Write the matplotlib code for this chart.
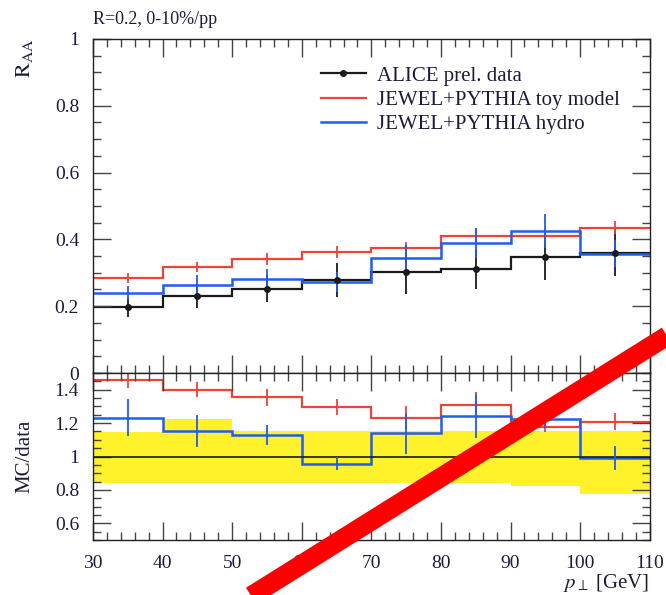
import numpy as np
import matplotlib
matplotlib.use("Agg")
import matplotlib.pyplot as plt
from matplotlib.lines import Line2D
from matplotlib.ticker import MultipleLocator

plt.rcParams['font.family'] = ['Liberation Serif', 'DejaVu Serif']
plt.rcParams['mathtext.fontset'] = 'stix'

# bins in pT
edges = [30, 40, 50, 60, 70, 80, 90, 100, 110]

# R_AA
data_val = [0.197, 0.230, 0.252, 0.278, 0.303, 0.310, 0.347, 0.360]
data_err = [0.030, 0.035, 0.040, 0.050, 0.065, 0.060, 0.070, 0.070]
toy_val = [0.284, 0.318, 0.340, 0.362, 0.373, 0.410, 0.410, 0.435]
toy_err = [0.015, 0.015, 0.018, 0.018, 0.020, 0.020, 0.020, 0.020]
hyd_val = [0.240, 0.263, 0.282, 0.272, 0.344, 0.389, 0.425, 0.357]
hyd_err = [0.020, 0.030, 0.030, 0.030, 0.040, 0.045, 0.050, 0.040]

# MC/data
toy_ratio = [1.458, 1.400, 1.354, 1.296, 1.232, 1.308, 1.178, 1.208]
toy_ratio_err = [0.050, 0.045, 0.050, 0.050, 0.070, 0.080, 0.030, 0.050]
hyd_ratio = [1.232, 1.152, 1.128, 0.958, 1.138, 1.242, 1.222, 0.992]
hyd_ratio_err = [0.110, 0.095, 0.060, 0.040, 0.120, 0.130, 0.050, 0.070]
band_hi = [1.148, 1.224, 1.150, 1.150, 1.150, 1.150, 1.150, 1.150]
band_lo = [0.842, 0.842, 0.842, 0.842, 0.842, 0.842, 0.822, 0.774]

edges = np.array(edges)
centers = 0.5 * (edges[1:] + edges[:-1])

txt = '#1c1c3a'
c_red = '#ee4438'
c_blue = '#1f5cf0'
c_blk = '#1a1a1a'

fig = plt.figure(figsize=(6.66, 5.95), dpi=100)
ax = fig.add_axes([0.1396, 0.3731, 0.836, 0.5614])
rx = fig.add_axes([0.1396, 0.0924, 0.836, 0.2807], sharex=ax)

# upper panel
ax.stairs(data_val, edges, baseline=None, color=c_blk, lw=1.6)
ax.errorbar(centers, data_val, yerr=data_err, fmt='o', color=c_blk, ms=4, lw=1.3, capsize=0)
ax.stairs(toy_val, edges, baseline=None, color=c_red, lw=1.6)
ax.errorbar(centers, toy_val, yerr=toy_err, fmt='none', ecolor=c_red, lw=1.3, capsize=0)
ax.stairs(hyd_val, edges, baseline=None, color=c_blue, lw=1.8)
ax.errorbar(centers, hyd_val, yerr=hyd_err, fmt='none', ecolor=c_blue, lw=1.3, capsize=0)
ax.set_ylim(0, 1)
ax.set_xlim(30, 110)

# ratio panel
rx.stairs(band_hi, edges, baseline=band_lo, fill=True, color='#fff12a', lw=0)
rx.axhline(1, color=c_blk, lw=1.2)
rx.stairs(toy_ratio, edges, baseline=None, color=c_red, lw=1.6)
rx.errorbar(centers, toy_ratio, yerr=toy_ratio_err, fmt='none', ecolor=c_red, lw=1.3, capsize=0)
rx.stairs(hyd_ratio, edges, baseline=None, color=c_blue, lw=1.8)
rx.errorbar(centers, hyd_ratio, yerr=hyd_ratio_err, fmt='none', ecolor=c_blue, lw=1.3, capsize=0)
rx.set_ylim(0.5, 1.5)

for a in (ax, rx):
    a.xaxis.set_major_locator(MultipleLocator(10))
    a.xaxis.set_minor_locator(MultipleLocator(2))
    a.yaxis.set_major_locator(MultipleLocator(0.2))
    a.yaxis.set_minor_locator(MultipleLocator(0.05))
    a.tick_params(which='both', direction='in', top=True, right=True,
                  colors='#444444', labelcolor=txt, labelsize=14, width=1.0)
    a.tick_params(which='major', length=13)
    a.tick_params(which='minor', length=6)
    a.tick_params(axis='y', pad=10)
    a.tick_params(axis='x', pad=11)
    for s in a.spines.values():
        s.set_color('#222222')
        s.set_linewidth(1.0)

plt.setp(ax.get_xticklabels(), visible=False)
ax.set_yticks([0, 0.2, 0.4, 0.6, 0.8, 1])
ax.set_yticklabels(['0', '0.2', '0.4', '0.6', '0.8', '1'])
rx.set_yticks([0.6, 0.8, 1.0, 1.2, 1.4])
rx.set_yticklabels(['0.6', '0.8', '1', '1.2', '1.4'])

ax.set_ylabel(r'$\mathrm{R}_{\mathrm{AA}}$', loc='top', color=txt, fontsize=16)
ax.yaxis.set_label_coords(-0.105, 1.0)
rx.set_ylabel('MC/data', color=txt, fontsize=15)
rx.yaxis.set_label_coords(-0.105, 0.5)
rx.set_xlabel(r'$p_\perp$ [GeV]', loc='right', color=txt, fontsize=15, labelpad=0)

fig.text(0.1396, 0.968, 'R=0.2, 0-10%/pp', color=txt, fontsize=13, ha='left', va='center')

handles = [
    Line2D([], [], color=c_blk, lw=1.6, marker='o', ms=4),
    Line2D([], [], color=c_red, lw=1.6),
    Line2D([], [], color=c_blue, lw=1.8),
]
labels = ['ALICE prel. data', 'JEWEL+PYTHIA toy model', 'JEWEL+PYTHIA hydro']
leg = ax.legend(handles, labels, loc='upper left', bbox_to_anchor=(0.375, 0.975),
                frameon=False, fontsize=15, handlelength=2.2, labelspacing=0.22,
                handletextpad=0.5)
for t in leg.get_texts():
    t.set_color(txt)

# red strike-through
fig.add_artist(Line2D([0.3604, 1.021], [-0.0134, 0.449], transform=fig.transFigure,
                      color='#ff0000', lw=14, solid_capstyle='butt', zorder=10))

fig.savefig('out.png', dpi=100)
